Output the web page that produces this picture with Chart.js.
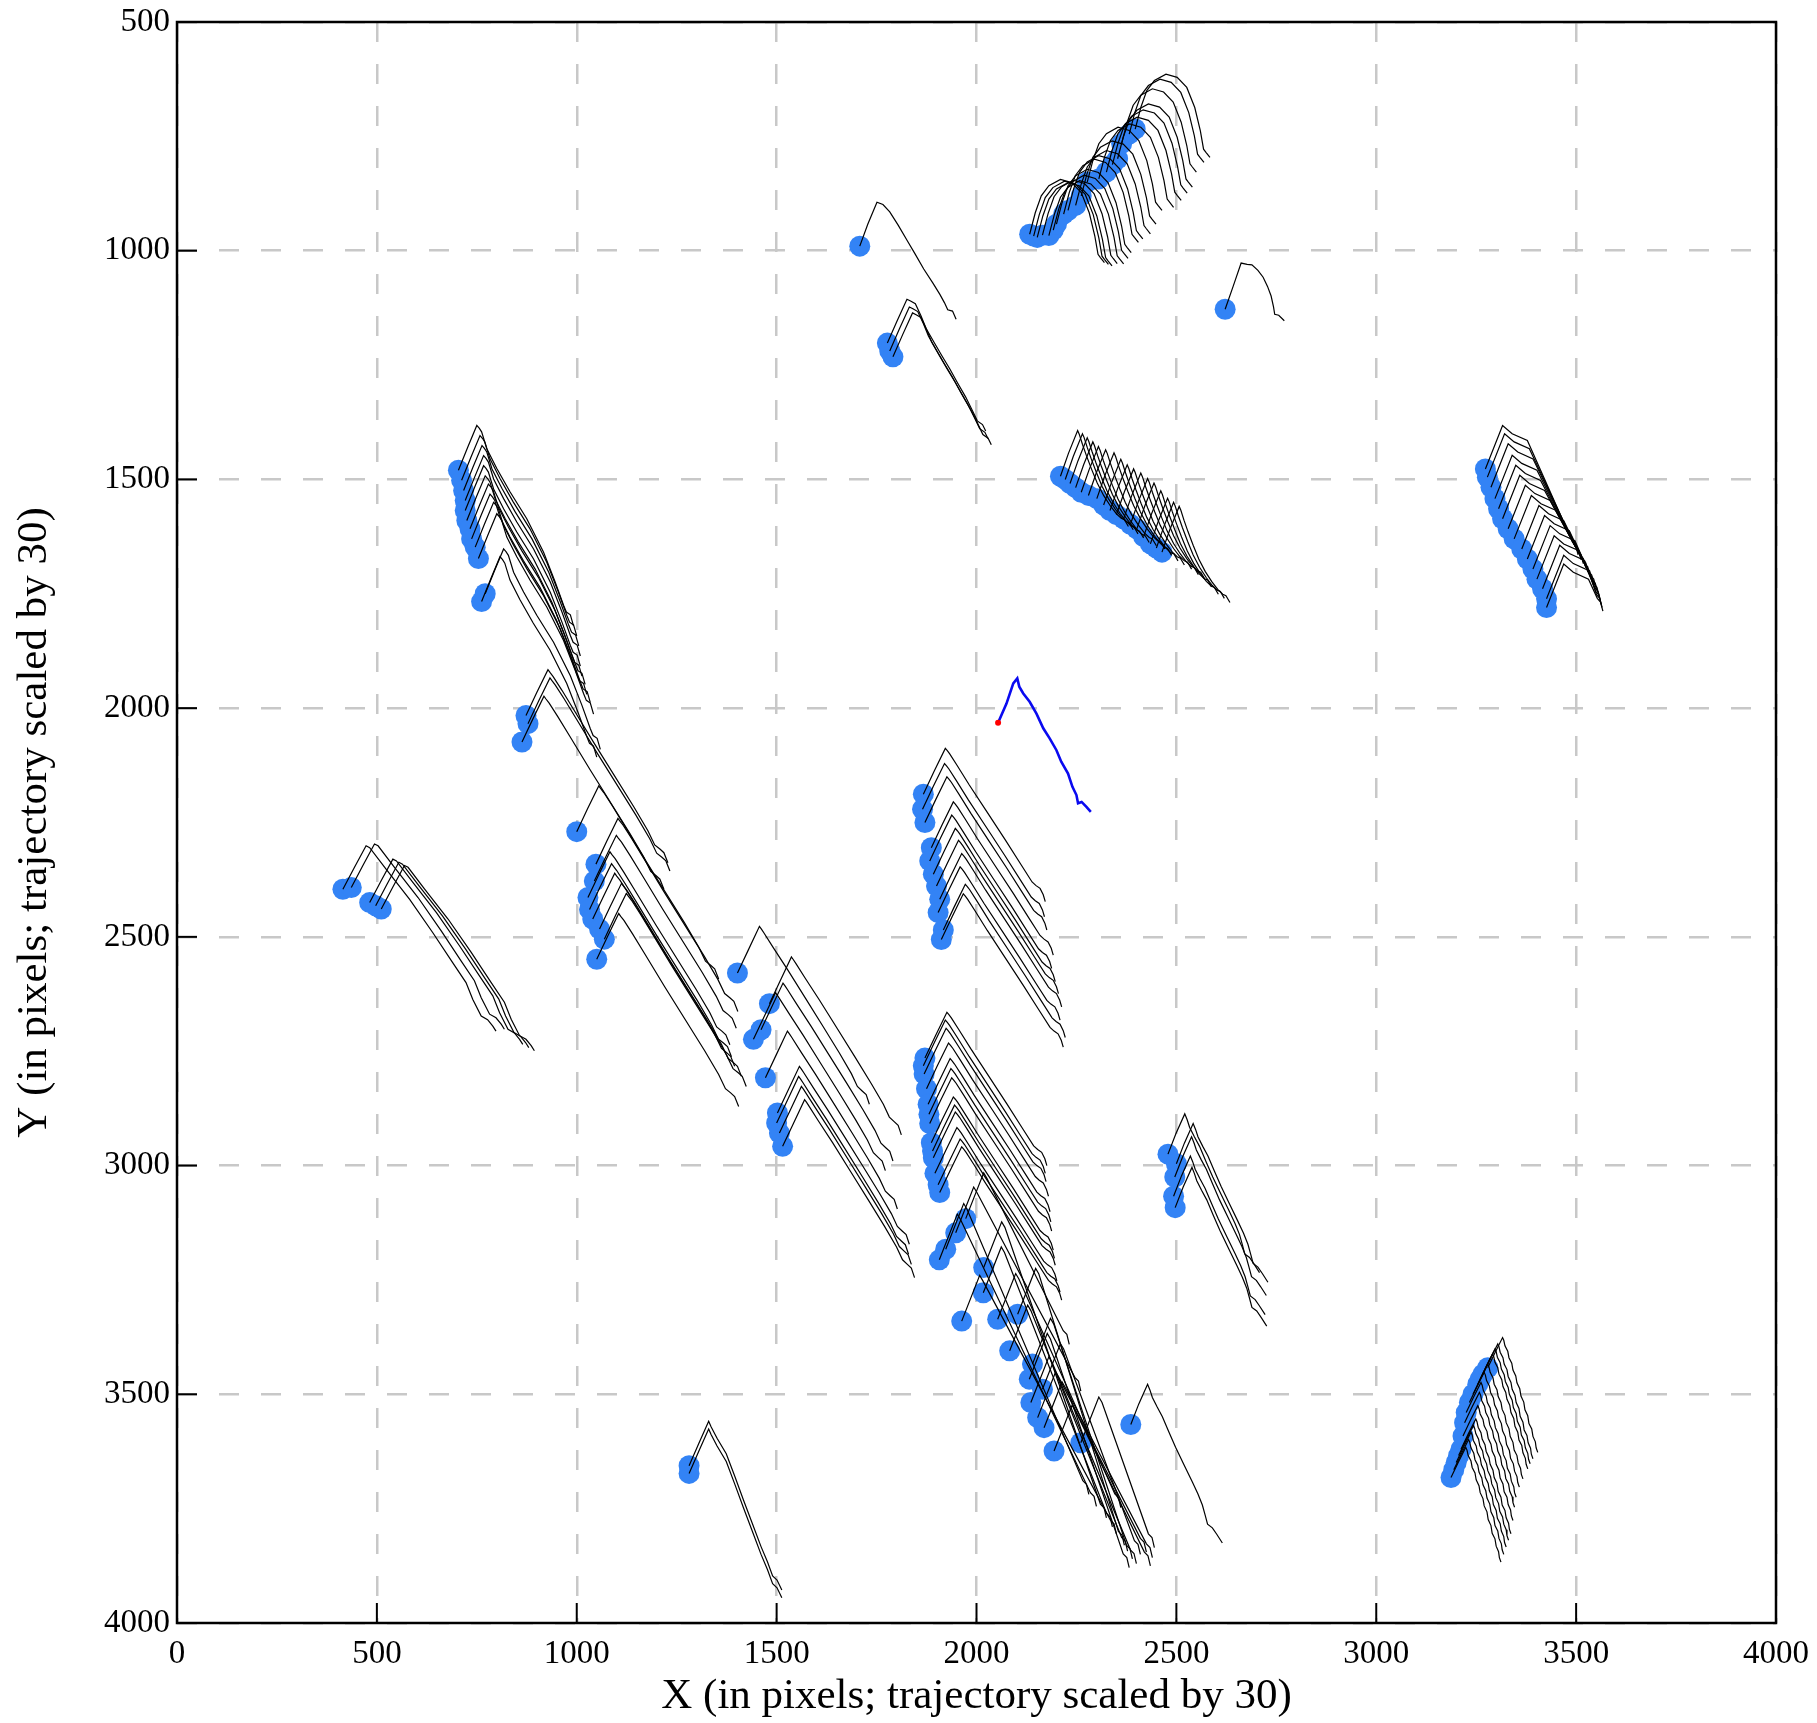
<!DOCTYPE html>
<html>
<head>
<meta charset="utf-8">
<script src="https://cdn.jsdelivr.net/npm/chart.js@4.4.0/dist/chart.umd.min.js"></script>
<style>
  html, body { margin: 0; padding: 0; background: #fff; }
  canvas { display: block; }
</style>
</head>
<body>
<canvas id="myChart" width="1817" height="1723"></canvas>
<script>
// axis ticks
const xTickValues = [0, 500, 1000, 1500, 2000, 2500, 3000, 3500, 4000]
const yTickValues = [500, 1000, 1500, 2000, 2500, 3000, 3500, 4000]
const xTitle = 'X (in pixels; trajectory scaled by 30)'
const yTitle = 'Y (in pixels; trajectory scaled by 30)'

// blue dots (particle positions), grouped by trajectory shape
const dotsA = [[2133,964],[2143,968],[2152,971],[2165,966],[2181,967],[2192,955],[2200,942],[2218,920],[2229,912],[2248,901],[2262,880],[2277,850],[2306,843],[2325,828],[2340,812],[2353,799],[2363,766],[2382,745],[2397,734]]
const dotsS1 = [[1708,990]]
const dotsS2 = [[2622,1128]]
const dotsB = [[1777,1202],[1783,1219],[1791,1232]]
const dotsC = [[704,1480],[712,1502],[717,1524],[721,1546],[721,1568],[725,1590],[733,1608],[737,1630],[746,1648],[754,1673],[771,1750],[762,1767]]
const dotsD = [[873,2016],[878,2034],[863,2074],[1000,2270],[1048,2341],[1044,2378],[1028,2414],[1032,2440],[1040,2461],[1057,2483],[1069,2505],[1050,2549]]
const dotsE = [[1402,2579],[1482,2646],[1461,2703],[1442,2724],[1472,2808],[1502,2885],[1500,2907],[1507,2929],[1515,2958]]
const dotsK = [[415,2396],[436,2392],[482,2425],[497,2432],[511,2439]]
const dotsFG = [[1867,2188],[1865,2221],[1871,2250],[1887,2305],[1883,2334],[1892,2363],[1900,2389],[1908,2418],[1904,2447],[1917,2485],[1912,2506],
                [1871,2765],[1867,2782],[1869,2800],[1875,2832],[1879,2866],[1881,2888],[1883,2908],[1887,2950],[1890,2968],[1892,2983],[1896,3017],[1904,3042],[1908,3059]]
const dotsL = [[2210,1493],[2222,1500],[2234,1509],[2248,1518],[2262,1528],[2280,1535],[2301,1542],[2318,1556],[2334,1568],[2350,1577],[2368,1586],[2385,1598],[2401,1608],[2418,1625],[2435,1641],[2450,1650],[2464,1659]]
const dotsI = [[2479,2975],[2500,2996],[2496,3025],[2493,3067],[2497,3092],[2386,3566]]
const dotsP = [[1281,3656],[1281,3673]]
const dotsJ = [[3187,3682],[3194,3665],[3200,3649],[3206,3634],[3212,3620],[3217,3591],[3221,3562],[3225,3540],[3233,3518],[3242,3500],[3254,3478],[3260,3467],[3267,3456],[3279,3442]]

// trajectory shapes (offsets from the dot, already scaled by 30)
const pathA = [[0,0],[14,-47],[29,-84],[48,-106],[77,-120],[105,-113],[129,-91],[149,-47],[163,4],[171,44],[177,51],[187,62]]
const pathS1 = [[0,0],[20,-48],[43,-96],[58,-91],[75,-75],[96,-46],[120,-10],[139,18],[160,50],[183,81],[200,105],[212,124],[220,139],[232,142],[241,160]]
const pathS2 = [[0,0],[20,-50],[40,-101],[55,-98],[67,-97],[82,-85],[95,-70],[106,-50],[115,-29],[121,-5],[124,11],[134,13],[148,25]]
const pathB = [[0,0],[24,-48],[49,-96],[58,-92],[70,-86],[84,-60],[97,-32],[116,-3],[136,27],[156,56],[175,86],[196,118],[212,146],[225,170],[238,178],[246,192]]
const pathC = [[0,0],[23,-50],[46,-98],[52,-92],[58,-84],[71,-47],[96,-4],[129,47],[171,106],[213,179],[242,244],[263,295],[270,310],[280,316],[288,340]]
const pathD = [[0,0],[27,-50],[55,-100],[60,-94],[68,-85],[90,-55],[120,-12],[170,60],[220,130],[270,200],[305,252],[322,283],[335,292],[345,300],[355,322]]
const pathE = [[0,0],[27,-50],[55,-102],[60,-96],[66,-88],[90,-55],[125,-8],[170,55],[215,118],[255,175],[285,220],[300,248],[312,258],[322,266],[330,287]]
const pathK = [[0,0],[29,-48],[58,-95],[67,-91],[108,-44],[167,22],[225,95],[275,161],[308,204],[325,241],[346,277],[362,285],[375,299],[383,310]]
const pathFG = [[0,0],[27,-50],[55,-100],[60,-95],[66,-88],[85,-62],[115,-20],[160,40],[205,100],[245,155],[272,192],[282,200],[292,206],[300,220],[305,235]]
const pathL = [[0,0],[20,-50],[43,-100],[47,-92],[55,-70],[65,-45],[78,-15],[92,15],[108,42],[125,65],[140,82],[152,92],[160,95],[170,110]]
const pathI = [[0,0],[20,-45],[42,-88],[48,-75],[54,-59],[66,-38],[79,-17],[95,16],[112,50],[133,88],[154,126],[168,152],[179,176],[186,198],[192,218],[204,226],[215,240],[229,259]]
const pathP = [[0,0],[24,-48],[49,-97],[55,-85],[70,-60],[93,-26],[115,25],[136,75],[158,126],[180,177],[196,210],[209,241],[220,250],[232,272]]
const pathJ = [[0,0],[18,-33],[37,-66],[40,-60],[43,-48],[50,-36],[53,-22],[60,-10],[63,5],[70,18],[73,33],[80,46],[83,62],[90,75],[93,92],[100,105],[103,122],[110,134],[113,150],[119,162],[121,175],[125,185]]

// converging bundles, read one by one (first point is the dot)
const pathsH = [
  [[1973,3116],[2018,3016],[2026,3028],[2217,3361],[2226,3369],[2232,3391]],
  [[1948,3147],[1993,3047],[2001,3059],[2246,3463],[2255,3471],[2261,3493]],
  [[1923,3183],[1968,3083],[1976,3095],[2266,3689],[2275,3697],[2281,3719]],
  [[1907,3206],[1952,3106],[1960,3118],[2285,3715],[2294,3723],[2300,3745]],
  [[2018,3223],[2063,3123],[2071,3135],[2310,3740],[2319,3748],[2325,3770]],
  [[2017,3278],[2062,3178],[2070,3190],[2325,3760],[2334,3768],[2340,3790]],
  [[1963,3340],[2008,3240],[2016,3252],[2335,3775],[2344,3783],[2350,3805]],
  [[2053,3336],[2098,3236],[2106,3248],[2346,3718],[2355,3726],[2361,3748]],
  [[2103,3325],[2148,3225],[2156,3237],[2355,3800],[2364,3808],[2370,3830]],
  [[2083,3405],[2128,3305],[2136,3317],[2363,3813],[2372,3821],[2378,3843]],
  [[2140,3434],[2185,3334],[2193,3346],[2375,3830],[2384,3838],[2390,3860]],
  [[2132,3467],[2177,3367],[2185,3379],[2367,3849],[2376,3857],[2382,3879]],
  [[2165,3489],[2210,3389],[2218,3401],[2395,3820],[2404,3828],[2410,3850]],
  [[2136,3518],[2181,3418],[2189,3430],[2385,3840],[2394,3848],[2400,3870]],
  [[2153,3551],[2198,3451],[2206,3463],[2410,3815],[2419,3823],[2425,3845]],
  [[2169,3573],[2214,3473],[2222,3485],[2425,3827],[2434,3835],[2440,3857]],
  [[2194,3624],[2239,3524],[2247,3536],[2420,3845],[2429,3853],[2435,3875]],
  [[2261,3606],[2306,3506],[2314,3518],[2430,3805],[2439,3813],[2445,3835]]
]
const pathsM = [
  [[3273,1477],[3316,1382],[3340,1400],[3378,1415],[3491,1637],[3499,1645],[3505,1665]],
  [[3278,1495],[3321,1400],[3345,1418],[3383,1433],[3498,1647],[3506,1655],[3512,1675]],
  [[3287,1517],[3330,1422],[3354,1440],[3392,1455],[3504,1656],[3512,1664],[3518,1684]],
  [[3297,1542],[3340,1447],[3364,1465],[3402,1480],[3510,1665],[3518,1673],[3524,1693]],
  [[3306,1564],[3349,1469],[3373,1487],[3411,1502],[3516,1674],[3524,1682],[3530,1702]],
  [[3316,1586],[3359,1491],[3383,1509],[3421,1524],[3521,1683],[3529,1691],[3535,1711]],
  [[3330,1608],[3373,1513],[3397,1531],[3435,1546],[3526,1692],[3534,1700],[3540,1720]],
  [[3345,1630],[3388,1535],[3412,1553],[3450,1568],[3531,1701],[3539,1709],[3545,1729]],
  [[3364,1652],[3407,1557],[3431,1575],[3469,1590],[3536,1710],[3544,1718],[3550,1738]],
  [[3378,1674],[3421,1579],[3445,1597],[3483,1612],[3540,1719],[3548,1727],[3554,1747]],
  [[3392,1696],[3435,1601],[3459,1619],[3497,1634],[3544,1728],[3552,1736],[3558,1756]],
  [[3402,1718],[3445,1623],[3469,1641],[3507,1656],[3547,1737],[3555,1745],[3561,1765]],
  [[3416,1739],[3459,1644],[3483,1662],[3521,1677],[3549,1745],[3557,1753],[3563,1773]],
  [[3426,1761],[3469,1666],[3493,1684],[3531,1699],[3551,1752],[3559,1760],[3565,1780]],
  [[3426,1780],[3469,1685],[3493,1703],[3531,1718],[3553,1760],[3561,1768],[3567,1788]]
]

// highlighted trajectory (blue) and its start (red)
const blueX = [2054,2075,2092,2102,2107,2117,2133,2150,2167,2183,2200,2212,2229,2240,2250,2254,2263,2275,2286]
const blueY = [2032,1990,1946,1935,1953,1968,1986,2012,2044,2066,2092,2117,2143,2172,2190,2208,2205,2216,2227]

const groups = [
  [dotsA, pathA], [dotsS1, pathS1], [dotsS2, pathS2], [dotsB, pathB], [dotsC, pathC],
  [dotsD, pathD], [dotsE, pathE], [dotsK, pathK], [dotsFG, pathFG], [dotsL, pathL],
  [dotsI, pathI], [dotsP, pathP], [dotsJ, pathJ]
]

const lineStyle = {
  showLine: true, borderColor: '#000', borderWidth: 1.2, pointRadius: 0,
  fill: false, tension: 0, order: 0
}

const datasets = []
const dotPoints = []

groups.forEach(([dots, path]) => {
  dots.forEach(d => {
    dotPoints.push({ x: d[0], y: d[1] })
    datasets.push({ ...lineStyle, data: path.map(p => ({ x: d[0] + p[0], y: d[1] + p[1] })) })
  })
})
pathsH.concat(pathsM).forEach(path => {
  dotPoints.push({ x: path[0][0], y: path[0][1] })
  datasets.push({ ...lineStyle, data: path.map(p => ({ x: p[0], y: p[1] })) })
})

// dots go underneath the trajectories
datasets.push({
  data: dotPoints, showLine: false, pointRadius: 10.5, pointBackgroundColor: '#3383F5',
  pointBorderWidth: 0, order: 1
})
datasets.push({
  data: blueX.map((x, i) => ({ x: x, y: blueY[i] })), showLine: true,
  borderColor: '#0a0af0', borderWidth: 2.6, pointRadius: 0, tension: 0, order: -1
})
datasets.push({
  data: [{ x: blueX[0], y: blueY[0] }], showLine: false, pointRadius: 3,
  pointBackgroundColor: '#ff0000', pointBorderWidth: 0, order: -2
})

const serif = 'Liberation Serif'

// frame, inward tick marks and axis titles
const framePlugin = {
  id: 'frame',
  afterDraw(chart) {
    const { ctx, chartArea: a, scales } = chart
    ctx.save()
    ctx.strokeStyle = '#000'
    ctx.lineWidth = 2
    xTickValues.forEach(v => {
      const px = scales.x.getPixelForValue(v)
      ctx.beginPath(); ctx.moveTo(px, a.bottom); ctx.lineTo(px, a.bottom - 20); ctx.stroke()
    })
    yTickValues.forEach(v => {
      const py = scales.y.getPixelForValue(v)
      ctx.beginPath(); ctx.moveTo(a.left, py); ctx.lineTo(a.left + 20, py); ctx.stroke()
    })
    ctx.lineWidth = 2.5
    ctx.strokeRect(a.left, a.top, a.right - a.left, a.bottom - a.top)

    ctx.fillStyle = '#000'
    ctx.font = '43px "Liberation Serif"'
    ctx.textAlign = 'center'
    ctx.textBaseline = 'middle'
    ctx.fillText(xTitle, (a.left + a.right) / 2, 1697)
    ctx.translate(35, (a.top + a.bottom) / 2)
    ctx.rotate(-Math.PI / 2)
    ctx.fillText(yTitle, 0, 0)
    ctx.restore()
  }
}

const ctx = document.getElementById('myChart').getContext('2d')

new Chart(ctx, {
  type: 'scatter',
  data: { datasets: datasets },
  options: {
    responsive: false,
    animation: false,
    devicePixelRatio: 1,
    events: [],
    layout: { padding: { top: 22, right: 41, left: 0, bottom: 0 } },
    plugins: { legend: { display: false }, tooltip: { enabled: false } },
    scales: {
      x: {
        type: 'linear', min: 0, max: 4000,
        afterBuildTicks: s => { s.ticks = xTickValues.map(v => ({ value: v })) },
        afterFit: s => { s.height = 100; s.paddingLeft = 0; s.paddingRight = 0 },
        ticks: { autoSkip: false, maxRotation: 0, padding: 12, color: '#000', font: { family: serif, size: 33 }, callback: v => String(v) },
        grid: { color: '#c8c8c8', lineWidth: 2.5, drawTicks: false },
        border: { display: false, dash: [20, 22] }
      },
      y: {
        type: 'linear', min: 500, max: 4000, reverse: true,
        afterBuildTicks: s => { s.ticks = yTickValues.map(v => ({ value: v })) },
        afterFit: s => { s.width = 177; s.paddingTop = 0; s.paddingBottom = 0 },
        ticks: { autoSkip: false, padding: 7, color: '#000', font: { family: serif, size: 33 }, callback: v => String(v) },
        grid: { color: '#c8c8c8', lineWidth: 2.5, drawTicks: false },
        border: { display: false, dash: [20, 22] }
      }
    }
  },
  plugins: [framePlugin]
})
</script>
</body>
</html>
